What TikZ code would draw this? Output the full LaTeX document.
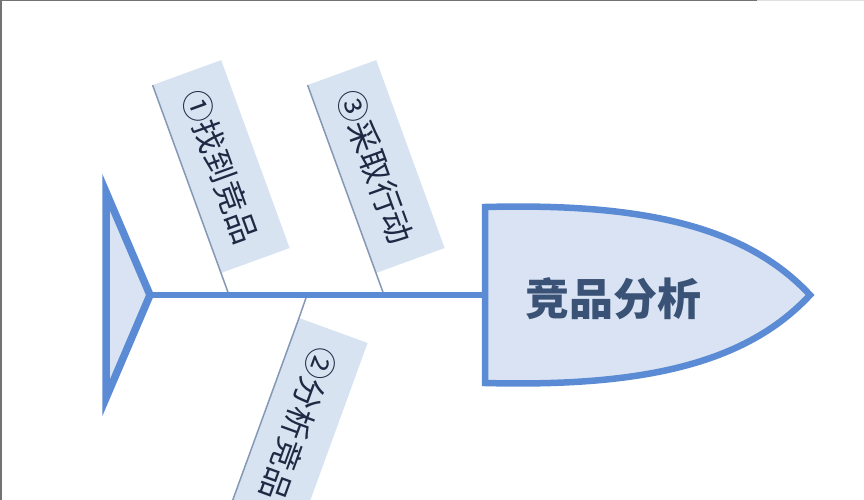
\documentclass[tikz,border=0pt]{standalone}
\usepackage{fontspec}
\newfontfamily\cjk{Noto Sans CJK SC}
\usepackage{xcolor}
\usepackage{tikz}
\usetikzlibrary{positioning,calc}
\definecolor{fishblue}{HTML}{5A8BD4}
\definecolor{headfill}{HTML}{D9E3F3}
\definecolor{cardfill}{HTML}{D8E3F1}
\definecolor{bonegray}{HTML}{8598B4}
\definecolor{labeltext}{HTML}{1E2A44}
\definecolor{titletext}{HTML}{3A5276}

\begin{document}
\begin{tikzpicture}[x=1pt, y=-1pt, outer sep=0pt,
    card/.style={rectangle, fill=cardfill, minimum width=200pt, minimum height=73pt, inner sep=0pt, text=labeltext, font=\cjk\fontsize{32}{32}\selectfont},
    bone/.style={draw=bonegray, line width=1.5pt},
    fish/.style={draw=fishblue, line width=6.5pt, fill=headfill, line join=miter}]
    \useasboundingbox (0,0) rectangle (864,500);
    % frame of the screenshot
    \draw[gray!90!black, line width=1.5pt] (0,0.75) -- (757,0.75);
    \draw[gray!25, line width=1.5pt] (757,0.75) -- (864,0.75);
    \draw[gray!90!black, line width=1.5pt] (0.75,0) -- (0.75,500);
    % spine end points
    \coordinate (tailtip) at (150,295);
    \coordinate (headleft) at (485,295);
    \coordinate (j1) at (229,295);
    \coordinate (j2) at (307,295);
    \coordinate (j3) at (384,295);
    % cards
    \node (find) [card, rotate=-70, anchor=south east] at (221,273) {\raisebox{-4pt}[24pt][6pt]{①找到竞品}};
    \node (act) [card, rotate=-70, anchor=south east] at (376,273) {\raisebox{-4pt}[24pt][6pt]{③采取行动}};
    \node (study) [card, rotate=-110, anchor=south west] at (299,318) {\raisebox{-4pt}[24pt][6pt]{②分析竞品}};
    \draw[bone] (j1) -- (find.south west);
    \draw[bone] (j3) -- (act.south west);
    \draw[bone] (j2) -- (study.south west) -- (study.south east);
    % tail and head
    \draw[fish, line width=7.5pt] (106,192) -- (tailtip) -- (106,398) -- cycle;
    \draw[fish] (485,207) .. controls (640,203) and (745,225) .. (810,295)
        .. controls (745,365) and (640,387) .. (485,383) -- cycle;
    \draw[draw=fishblue, line width=6pt] (tailtip) -- (headleft);
    \node (title) at (613,299) [text=titletext, font=\cjk\bfseries\fontsize{44}{44}\selectfont] {竞品分析};
\end{tikzpicture}
\end{document}
